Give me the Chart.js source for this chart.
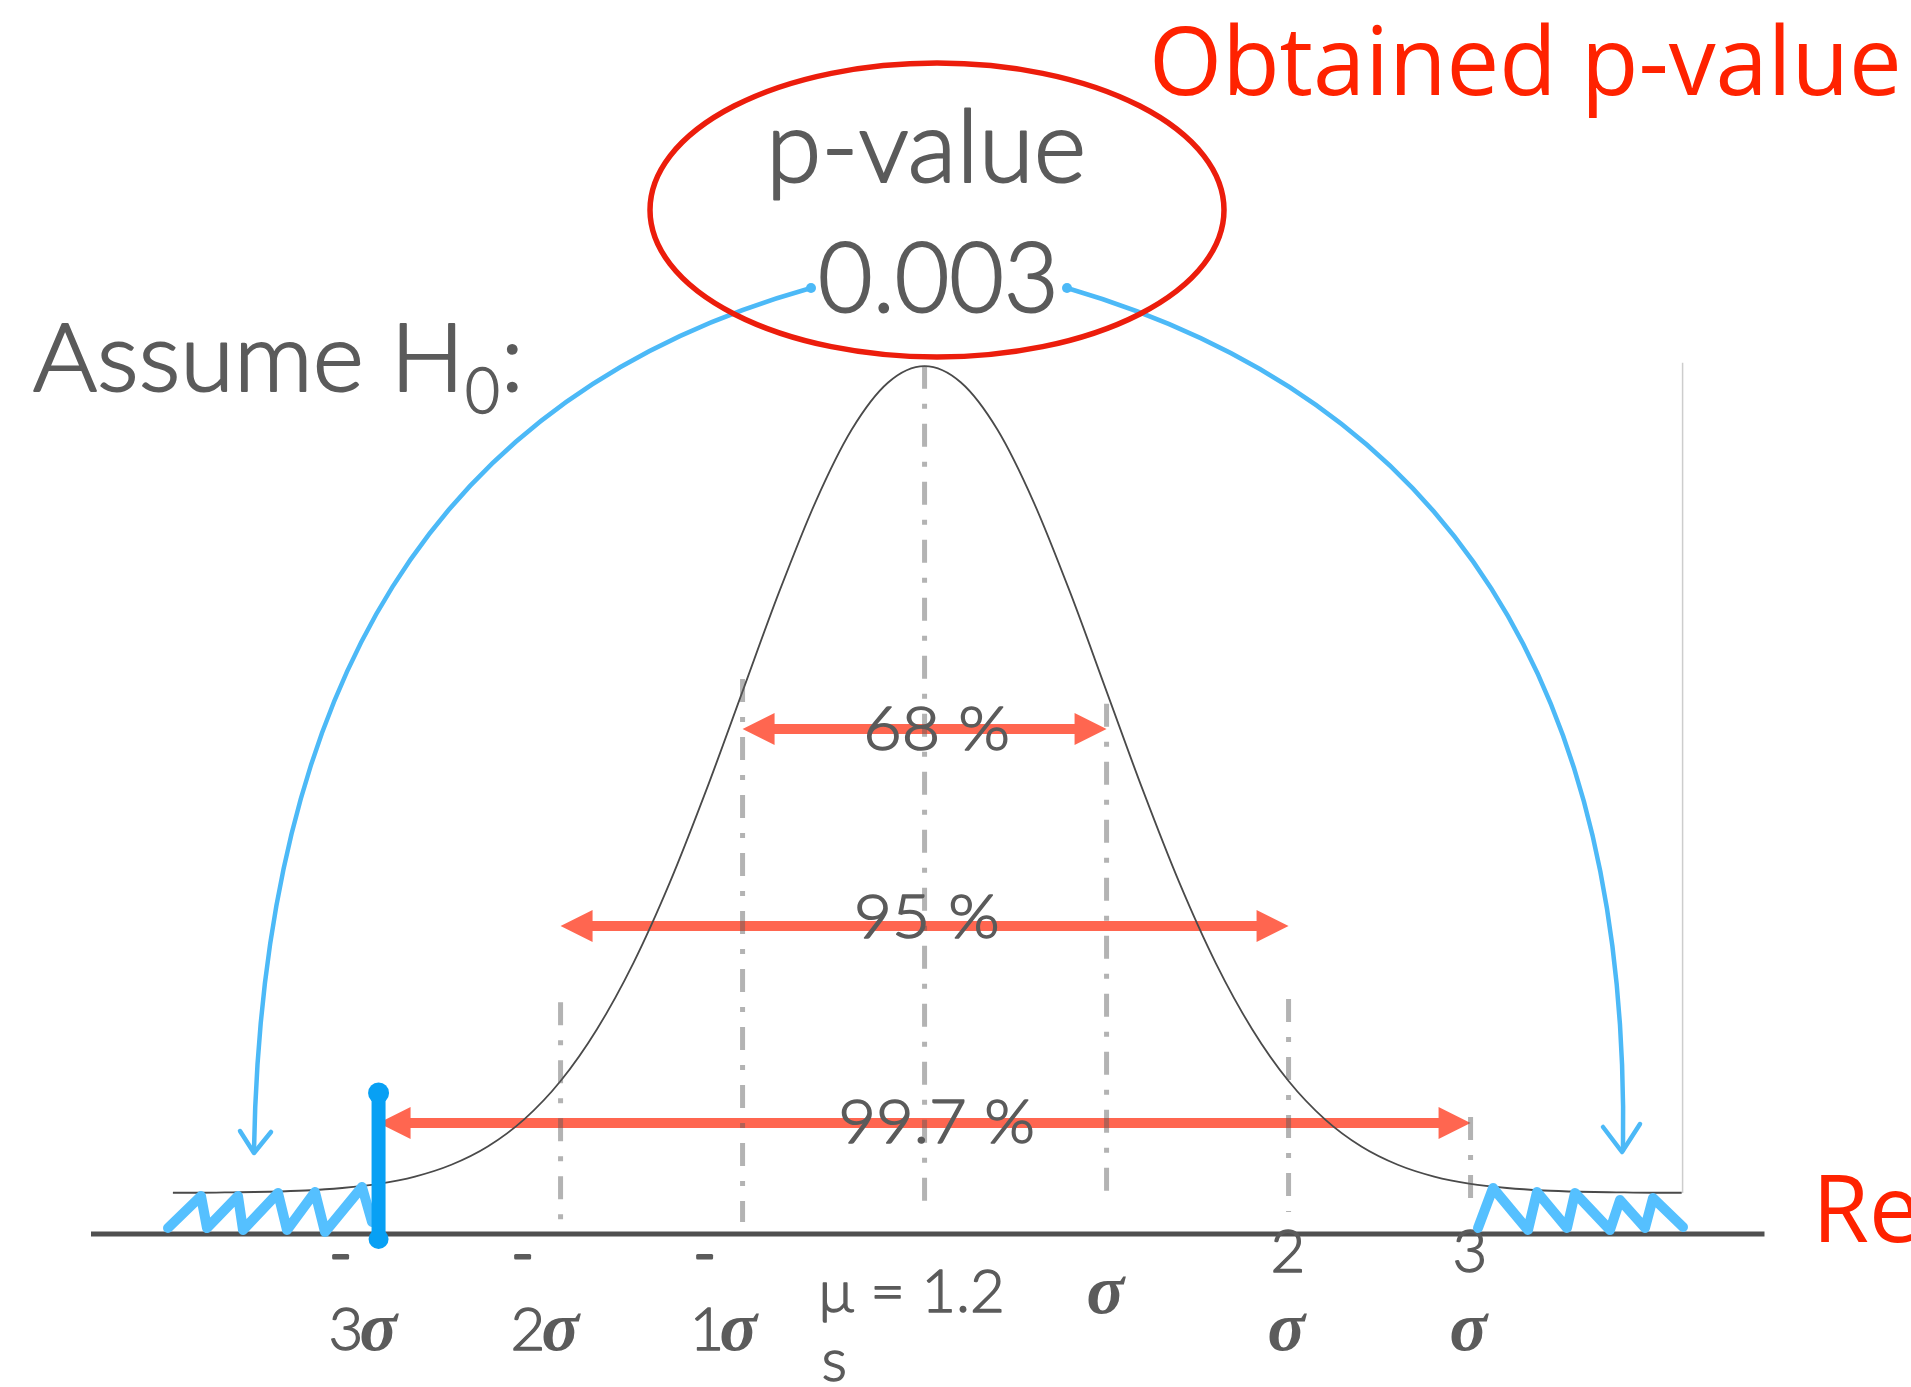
<!DOCTYPE html>
<html>
<head>
<meta charset="utf-8">
<title>Normal distribution and p-value</title>
<script src="https://cdn.jsdelivr.net/npm/chart.js@4"></script>
<style>
  html, body { margin: 0; padding: 0; background: #ffffff; overflow: hidden; }
  #wrap { width: 1911px; height: 1387px; }
  canvas { display: block; }
</style>
</head>
<body>
<div id="wrap"><canvas id="c" width="1911" height="1387"></canvas></div>
<script>
// Bell curve: x in units of sigma, y as density
const sigmaX = [-4.13, -4, -3.8, -3.6, -3.4, -3.2, -3, -2.8, -2.6, -2.4, -2.2, -2, -1.8, -1.6, -1.4, -1.2, -1, -0.8, -0.6, -0.4, -0.2,
                0, 0.2, 0.4, 0.6, 0.8, 1, 1.2, 1.4, 1.6, 1.8, 2, 2.2, 2.4, 2.6, 2.8, 3, 3.2, 3.4, 3.6, 3.8, 4, 4.16];
const density = [0.0001, 0.0001, 0.0003, 0.0006, 0.0012, 0.0024, 0.0044, 0.0079, 0.0136, 0.0224, 0.0355, 0.0540, 0.0790, 0.1109, 0.1497, 0.1942, 0.2420, 0.2897, 0.3332, 0.3683, 0.3910,
                 0.3989, 0.3910, 0.3683, 0.3332, 0.2897, 0.2420, 0.1942, 0.1497, 0.1109, 0.0790, 0.0540, 0.0355, 0.0224, 0.0136, 0.0079, 0.0044, 0.0024, 0.0012, 0.0006, 0.0003, 0.0001, 0.0001];

// Sigma marks along the axis and their labels (one entry per text line)
const tickSigma = [-3, -2, -1, 0, 1, 2, 3];
const tickLines = [['-', '3σ'], ['-', '2σ'], ['-', '1σ'], ['μ = 1.2', 's'], ['σ'], ['2', 'σ'], ['3', 'σ']];

// Coverage intervals: ±1σ, ±2σ, ±3σ
const coverageSigma = [1, 2, 3];
const coverageLabels = ['68 %', '95 %', '99.7 %'];

// Test result
const pValueText = '0.003';

const GRAY = '#5b5b5b';
const CORAL = '#ff6650';
const RED = '#ff2200';
const SKY = '#55c0ff';
const BLUE = '#08a0f4';
const GAUGE = 'rgba(90,90,90,0.46)';
const BODY = '300 {s}px Lato';
const body = s => BODY.replace('{s}', s);

// Draws text so that its ink spans exactly `width` px starting at `left`;
// `edge` adds an outline of the same colour to give the light face a book weight
function inkText(ctx, str, left, base, width, font, color, edge) {
  ctx.font = font;
  ctx.fillStyle = color;
  ctx.strokeStyle = color;
  ctx.textAlign = 'left';
  ctx.textBaseline = 'alphabetic';
  const m = ctx.measureText(str);
  const ink = m.actualBoundingBoxLeft + m.actualBoundingBoxRight;
  const sx = width ? width / ink : 1;
  ctx.save();
  ctx.translate(left, base);
  ctx.scale(sx, 1);
  ctx.fillText(str, m.actualBoundingBoxLeft, 0);
  if (edge) {
    ctx.lineWidth = edge;
    ctx.lineJoin = 'round';
    ctx.strokeText(str, m.actualBoundingBoxLeft, 0);
  }
  ctx.restore();
  return sx;
}
function inkWidth(ctx, str, font) {
  ctx.font = font;
  const m = ctx.measureText(str);
  return m.actualBoundingBoxLeft + m.actualBoundingBoxRight;
}

const DIGIT_FONT = body(60);
const SIGMA_FONT = 'italic 700 70px "Liberation Serif"';

// A tick-label line may mix plain text and a serif σ
function lineRuns(str) {
  const out = [];
  let buf = '';
  for (const ch of str) {
    if (ch === 'σ') { if (buf) out.push({ t: buf, f: DIGIT_FONT, e: 1.4 }); buf = ''; out.push({ t: 'σ', f: SIGMA_FONT, e: 0 }); }
    else buf += ch;
  }
  if (buf) out.push({ t: buf, f: DIGIT_FONT, e: buf === '-' ? 3 : 1.4 });
  return out;
}
function drawRuns(ctx, str, x, base, align) {
  const runs = lineRuns(str);
  const gap = 2;
  const widths = runs.map(r => inkWidth(ctx, r.t, r.f));
  const total = widths.reduce((a, b) => a + b, 0) + gap * (runs.length - 1);
  let cx = align === 'center' ? x - total / 2 : x;
  runs.forEach((r, i) => {
    inkText(ctx, r.t, cx, base, 0, r.f, GRAY, r.e);
    cx += widths[i] + gap;
  });
}

function arrow(ctx, x1, x2, y) {
  const head = 32, half = 16;
  ctx.save();
  ctx.strokeStyle = CORAL;
  ctx.fillStyle = CORAL;
  ctx.lineWidth = 10;
  ctx.beginPath();
  ctx.moveTo(x1 + head - 2, y);
  ctx.lineTo(x2 - head + 2, y);
  ctx.stroke();
  ctx.beginPath();
  ctx.moveTo(x1, y); ctx.lineTo(x1 + head, y - half); ctx.lineTo(x1 + head, y + half); ctx.closePath(); ctx.fill();
  ctx.beginPath();
  ctx.moveTo(x2, y); ctx.lineTo(x2 - head, y - half); ctx.lineTo(x2 - head, y + half); ctx.closePath(); ctx.fill();
  ctx.restore();
}

function polyline(ctx, pts, color, width) {
  ctx.save();
  ctx.strokeStyle = color;
  ctx.lineWidth = width;
  ctx.lineJoin = 'round';
  ctx.lineCap = 'round';
  ctx.beginPath();
  pts.forEach((p, i) => (i ? ctx.lineTo(p[0], p[1]) : ctx.moveTo(p[0], p[1])));
  ctx.stroke();
  ctx.restore();
}

const overlay = {
  id: 'overlay',
  beforeDatasetsDraw(chart) {
    const ctx = chart.ctx;
    const X = v => chart.scales.x.getPixelForValue(v);
    const Y = v => chart.scales.y.getPixelForValue(v);

    // horizontal axis
    ctx.save();
    ctx.strokeStyle = '#505050';
    ctx.lineWidth = 5;
    ctx.beginPath();
    ctx.moveTo(X(-4.58), Y(-0.0198));
    ctx.lineTo(X(4.615), Y(-0.0198));
    ctx.stroke();
    // frame line at the right end of the curve
    ctx.strokeStyle = '#cdcdcd';
    ctx.lineWidth = 1.5;
    ctx.beginPath();
    ctx.moveTo(X(4.165), Y(0));
    ctx.lineTo(X(4.165), Y(0.4005));
    ctx.stroke();
    ctx.restore();

    // coverage arrows
    const arrowY = [0.2238, 0.1288, 0.0338];
    coverageSigma.forEach((s, i) => arrow(ctx, X(-s), X(s), Y(arrowY[i])));
  },
  afterDatasetsDraw(chart) {
    const ctx = chart.ctx;
    const X = v => chart.scales.x.getPixelForValue(v);
    const Y = v => chart.scales.y.getPixelForValue(v);

    // dash-dot guides at the sigma marks
    const guides = [[-2, -0.014, 0.092], [-1, -0.014, 0.248], [0, -0.0096, 0.399],
                    [1, 0, 0.236], [2, -0.0092, 0.0936], [3, -0.0092, 0.0367]];
    ctx.save();
    ctx.strokeStyle = GAUGE;
    ctx.lineWidth = 5;
    ctx.setLineDash([23, 15, 5, 15]);
    guides.forEach(([s, lo, hi]) => {
      ctx.beginPath();
      ctx.moveTo(X(s), Y(hi));
      ctx.lineTo(X(s), Y(lo));
      ctx.stroke();
    });
    ctx.restore();

    // coverage labels
    const labelDx = [13, 3, 13];
    const labelW = [140, 139, 190];
    const labelBase = [750, 938, 1143];
    coverageLabels.forEach((t, i) => {
      inkText(ctx, t, X(0) + labelDx[i] - labelW[i] / 2, labelBase[i], labelW[i], body(62), GRAY, 1.5);
    });

    // sigma tick labels
    tickSigma.forEach((s, i) => {
      const lines = tickLines[i];
      const x = X(s);
      if (s < 0) {
        drawRuns(ctx, lines[0], x - 45, 1274, 'left');
        drawRuns(ctx, lines[1], x - 47, 1350, 'left');
      } else if (s === 0) {
        drawRuns(ctx, lines[0], x - 102, 1312, 'left');
        drawRuns(ctx, lines[1], x - 101, 1381, 'left');
      } else if (lines.length === 1) {
        drawRuns(ctx, lines[0], x + 1, 1313, 'center');
      } else {
        drawRuns(ctx, lines[0], x - 1, 1272, 'center');
        drawRuns(ctx, lines[1], x, 1350, 'center');
      }
    });

    // rejection-region hatching in both tails
    polyline(ctx, [[168, 1228], [201, 1196], [207, 1228], [238, 1196], [243, 1230], [278, 1193], [287, 1230],
                   [315, 1192], [325, 1232], [362, 1187], [372, 1222]], SKY, 10);
    polyline(ctx, [[1478, 1228], [1493, 1188], [1528, 1230], [1537, 1192], [1567, 1228], [1575, 1193],
                   [1610, 1230], [1620, 1200], [1645, 1228], [1653, 1198], [1683, 1227]], SKY, 10);

    // observed statistic marker at -3σ
    ctx.save();
    ctx.strokeStyle = BLUE;
    ctx.fillStyle = BLUE;
    ctx.lineWidth = 14;
    ctx.lineCap = 'round';
    ctx.beginPath();
    ctx.moveTo(X(-3), 1092);
    ctx.lineTo(X(-3), 1240);
    ctx.stroke();
    ctx.beginPath(); ctx.arc(X(-3), 1093, 10.5, 0, Math.PI * 2); ctx.fill();
    ctx.beginPath(); ctx.arc(X(-3), 1239, 10, 0, Math.PI * 2); ctx.fill();
    ctx.restore();

    // curved arrows from the p-value down to the tails
    ctx.save();
    ctx.strokeStyle = '#4cb9f7';
    ctx.fillStyle = '#4cb9f7';
    ctx.lineWidth = 4.5;
    ctx.lineCap = 'round';
    ctx.lineJoin = 'round';
    ctx.beginPath();
    ctx.moveTo(811, 288);
    ctx.bezierCurveTo(430, 395, 262, 690, 254, 1150);
    ctx.stroke();
    ctx.beginPath();
    ctx.moveTo(240, 1131); ctx.lineTo(254, 1153); ctx.lineTo(271, 1132);
    ctx.stroke();
    ctx.beginPath();
    ctx.moveTo(1067, 288);
    ctx.bezierCurveTo(1450, 400, 1630, 690, 1623, 1150);
    ctx.stroke();
    ctx.beginPath();
    ctx.moveTo(1603, 1127); ctx.lineTo(1622, 1152); ctx.lineTo(1640, 1124);
    ctx.stroke();
    ctx.beginPath(); ctx.arc(811, 288, 5, 0, Math.PI * 2); ctx.fill();
    ctx.beginPath(); ctx.arc(1067, 288, 5, 0, Math.PI * 2); ctx.fill();
    ctx.restore();

    // p-value block
    inkText(ctx, 'p-value', 774, 182, 308, body(100), GRAY, 2);
    inkText(ctx, pValueText, 821, 312, 232, body(96), GRAY, 2);

    ctx.save();
    ctx.strokeStyle = '#ec1d0c';
    ctx.lineWidth = 5.5;
    ctx.beginPath();
    ctx.ellipse(937, 210, 287, 147, 0, 0, Math.PI * 2);
    ctx.stroke();
    ctx.restore();

    // headings
    const sx = inkText(ctx, 'Obtained p-value', 1154, 95, 743, '400 96px "Open Sans"', RED, 0);
    ctx.save();
    ctx.font = '400 94px "Open Sans"';
    ctx.fillStyle = RED;
    ctx.translate(1821, 1242);
    ctx.scale(sx, 1);
    const m = ctx.measureText('Rejection region');
    ctx.fillText('Rejection region', m.actualBoundingBoxLeft, 0);
    ctx.restore();

    inkText(ctx, 'Assume H', 34, 391, 421, body(94), GRAY, 2);
    inkText(ctx, '0', 467, 413, 31, body(64), GRAY, 1.5);
    inkText(ctx, ':', 507, 391, 0, body(94), GRAY, 2);
  }
};

new Chart(document.getElementById('c'), {
  type: 'line',
  data: {
    datasets: [{
      data: sigmaX.map((x, i) => ({ x: x, y: density[i] })),
      borderColor: '#4a4a4a',
      borderWidth: 1.8,
      pointRadius: 0,
      fill: false,
      cubicInterpolationMode: 'monotone'
    }]
  },
  options: {
    responsive: false,
    animation: false,
    devicePixelRatio: 1,
    layout: { padding: 0 },
    plugins: { legend: { display: false }, tooltip: { enabled: false } },
    scales: {
      x: { type: 'linear', min: -5.08, max: 5.42, display: false },
      y: { type: 'linear', min: -0.0936, max: 0.5755, display: false }
    }
  },
  plugins: [overlay]
});
</script>
</body>
</html>
